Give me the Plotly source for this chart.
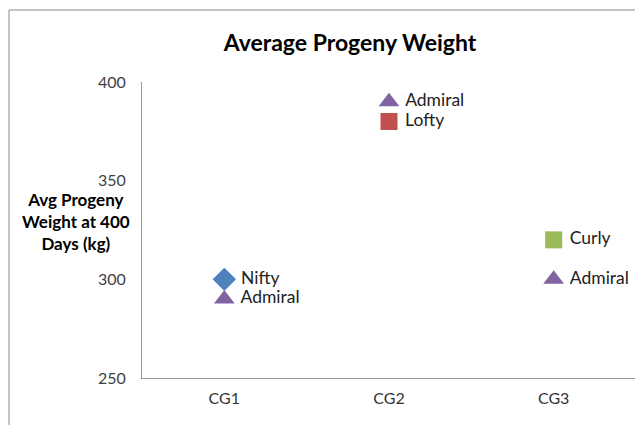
import plotly.graph_objects as go

categories = ["CG1", "CG2", "CG3"]
series = [
    {"name": "Nifty", "cat": "CG1", "value": 300, "symbol": "diamond", "color": "#4F81BD"},
    {"name": "Admiral", "cat": "CG1", "value": 290, "symbol": "triangle-up", "color": "#8064A2"},
    {"name": "Admiral", "cat": "CG2", "value": 390, "symbol": "triangle-up", "color": "#8064A2"},
    {"name": "Lofty", "cat": "CG2", "value": 380, "symbol": "square", "color": "#C0504D"},
    {"name": "Curly", "cat": "CG3", "value": 320, "symbol": "square", "color": "#9BBB59"},
    {"name": "Admiral", "cat": "CG3", "value": 300, "symbol": "triangle-up", "color": "#8064A2"},
]
y_ticks = [250, 300, 350, 400]

font = "Lato, 'Open Sans', sans-serif"
W, H = 635, 417
L, R, T, B = 134, 7, 74, 47
PW, PH = W - L - R, H - T - B

fig = go.Figure()
for s in series:
    fig.add_trace(go.Scatter(
        x=[categories.index(s["cat"])], y=[s["value"]],
        mode="markers+text", text=[" " + s["name"]], textposition="middle right",
        textfont=dict(size=17.5, color="#222", family=font),
        marker=dict(symbol=s["symbol"], size=18 if s["symbol"] != "square" else 17,
                    color=s["color"], line=dict(width=0)),
        showlegend=False, cliponaxis=False,
    ))

fig.update_layout(
    width=W, height=H,
    margin=dict(l=L, r=R, t=T, b=B),
    paper_bgcolor="white", plot_bgcolor="white",
    title=dict(text="<b>Average Progeny Weight</b>", x=342 / W, xanchor="center", y=1 - 35 / H, yanchor="middle",
               font=dict(size=23, color="#000", family=font)),
    xaxis=dict(range=[-0.5, 2.5], tickvals=[0, 1, 2], ticktext=categories, showgrid=False, zeroline=False,
               showline=True, linecolor="#999", linewidth=1, ticks="outside", ticklen=6,
               tickcolor="rgba(0,0,0,0)",
               tickfont=dict(size=16, color="#333", family=font)),
    yaxis=dict(range=[250, 400], tickvals=y_ticks, showgrid=False, zeroline=False,
               showline=True, linecolor="#999", linewidth=1, ticks="outside", ticklen=12,
               tickcolor="rgba(0,0,0,0)",
               tickfont=dict(size=16, color="#404040", family=font)),
    font=dict(family=font),
)
fig.add_annotation(text="<b>Avg Progeny<br>Weight at 400<br>Days (kg)</b>", xref="paper", yref="paper",
                   x=(68 - L) / PW, y=(H - B - 213) / PH, xanchor="center", yanchor="middle",
                   showarrow=False, align="center", font=dict(size=17, color="#000", family=font))
fig.add_shape(type="rect", xref="paper", yref="paper",
              x0=(1 - L) / PW, x1=1.2, y0=-0.3, y1=(H - B - 2) / PH,
              line=dict(color="#888", width=1), fillcolor="rgba(0,0,0,0)", layer="below")
fig.write_html("out.html")
